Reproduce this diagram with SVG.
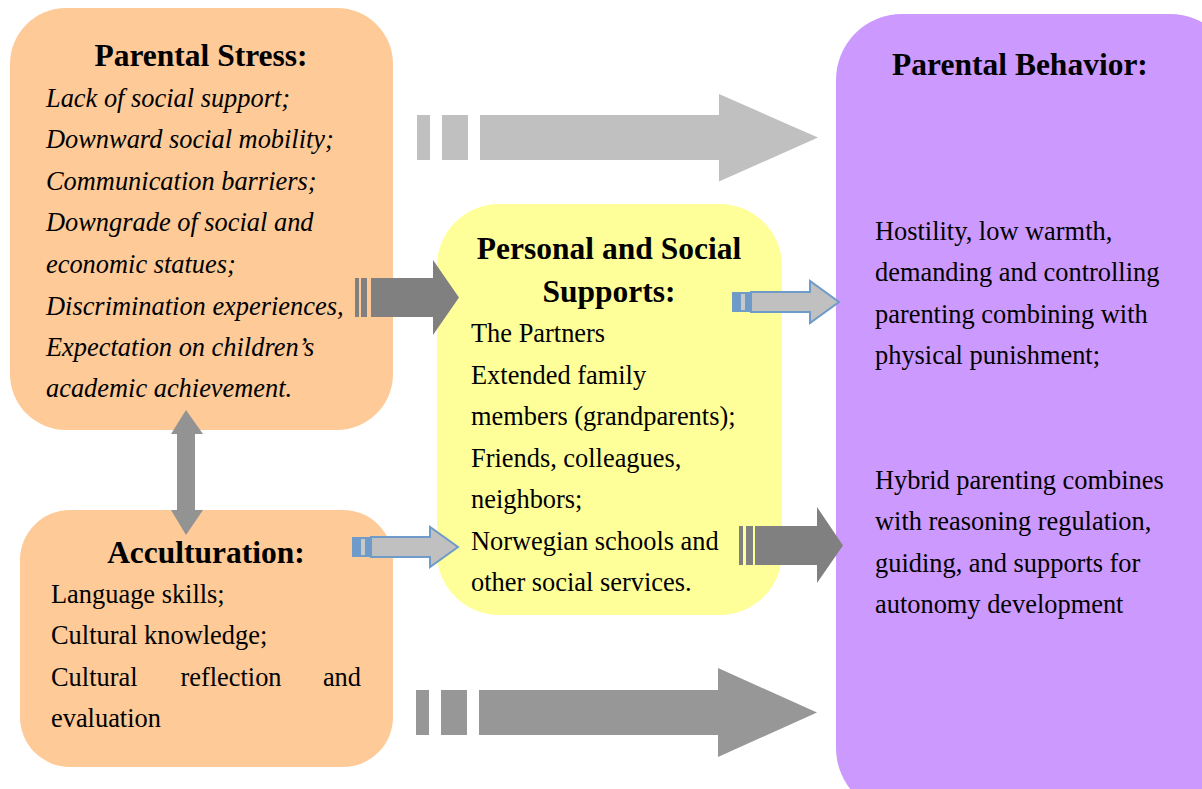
<svg xmlns="http://www.w3.org/2000/svg" width="1202" height="789" viewBox="0 0 1202 789">
<style>
.t{font-family:"Liberation Serif","Times New Roman",serif;font-weight:bold;font-size:31.5px;fill:#000;text-anchor:middle}
.i{font-family:"Liberation Serif","Times New Roman",serif;font-style:italic;font-size:26.4px;fill:#000}
.n{font-family:"Liberation Serif","Times New Roman",serif;font-size:26.4px;fill:#000}
</style>
<rect width="1202" height="789" fill="#fff"/>
<g id="parental-stress">
<rect x="10" y="8" width="383" height="422" rx="56" fill="#fdca98"/>
<text class="t" x="201" y="66">Parental Stress:</text>
<text class="i" x="46" y="107">Lack of social support;</text>
<text class="i" x="46" y="148">Downward social mobility;</text>
<text class="i" x="46" y="190">Communication barriers;</text>
<text class="i" x="46" y="231">Downgrade of social and</text>
<text class="i" x="46" y="273">economic statues;</text>
<text class="i" x="46" y="315">Discrimination experiences,</text>
<text class="i" x="46" y="356">Expectation on children’s</text>
<text class="i" x="46" y="397">academic achievement.</text>
</g>
<g id="acculturation">
<rect x="20" y="510" width="373" height="257" rx="50" fill="#fdca98"/>
<text class="t" x="206" y="563">Acculturation:</text>
<text class="n" x="51" y="603">Language skills;</text>
<text class="n" x="51" y="644">Cultural knowledge;</text>
<text class="n" x="51" y="686">Cultural</text>
<text class="n" x="231" y="686" text-anchor="middle">reflection</text>
<text class="n" x="361" y="686" text-anchor="end">and</text>
<text class="n" x="51" y="727">evaluation</text>
</g>
<g id="supports">
<rect x="437" y="204" width="345" height="411" rx="62" fill="#ffff99"/>
<text class="t" x="609" y="259">Personal and Social</text>
<text class="t" x="609" y="302">Supports:</text>
<text class="n" x="471" y="342">The Partners</text>
<text class="n" x="471" y="384">Extended family</text>
<text class="n" x="471" y="425">members (grandparents);</text>
<text class="n" x="471" y="467">Friends, colleagues,</text>
<text class="n" x="471" y="508">neighbors;</text>
<text class="n" x="471" y="550">Norwegian schools and</text>
<text class="n" x="471" y="591">other social services.</text>
</g>
<g id="parental-behavior">
<rect x="836" y="14" width="400" height="800" rx="66" fill="#cc99ff"/>
<text class="t" x="1020" y="75">Parental Behavior:</text>
<text class="n" x="875" y="240">Hostility, low warmth,</text>
<text class="n" x="875" y="281">demanding and controlling</text>
<text class="n" x="875" y="323">parenting combining with</text>
<text class="n" x="875" y="364">physical punishment;</text>
<text class="n" x="875" y="489">Hybrid parenting combines</text>
<text class="n" x="875" y="530">with reasoning regulation,</text>
<text class="n" x="875" y="572">guiding, and supports for</text>
<text class="n" x="875" y="613">autonomy development</text>
</g>
<g id="connectors">
<g fill="#c0c0c0">
<rect x="417" y="115" width="13" height="45"/>
<rect x="442" y="115" width="26" height="45"/>
<polygon points="480,115 719,115 719,94 818,137.5 719,181.5 719,160 480,160"/>
</g>
<g fill="#979797">
<rect x="416" y="690" width="13" height="45"/>
<rect x="441" y="690" width="26" height="45"/>
<polygon points="479,690 718,690 718,668 817,712.5 718,757 718,735 479,735"/>
</g>
<g fill="#808080">
<rect x="355" y="278" width="4" height="39"/>
<rect x="361" y="278" width="6" height="39"/>
<polygon points="371,278 433,278 433,260 459,297.5 433,335 433,317 371,317"/>
</g>
<g fill="#808080">
<rect x="739" y="526" width="4" height="39"/>
<rect x="746" y="526" width="7" height="39"/>
<polygon points="755,526 817,526 817,507 843,545.5 817,583 817,565 755,565"/>
</g>
<g>
<rect x="732" y="292" width="19" height="20" fill="#6f9bc8"/>
<rect x="741" y="294" width="4" height="16" fill="#c8c8c8"/>
<polygon points="751,292 810,292 810,281 839,302 810,323 810,312 751,312" fill="#c0c0c0" stroke="#6f9bc8" stroke-width="2"/>
</g>
<g>
<rect x="352" y="537" width="19" height="20" fill="#6f9bc8"/>
<rect x="361" y="539" width="4" height="16" fill="#c8c8c8"/>
<polygon points="371,537 430,537 430,527 458,547 430,567 430,557 371,557" fill="#c0c0c0" stroke="#6f9bc8" stroke-width="2"/>
</g>
<polygon points="186,410 203,434 195,434 195,510 203,510 186,535 171,510 177,510 177,434 171,434" fill="#939393"/>
</g>
</svg>
